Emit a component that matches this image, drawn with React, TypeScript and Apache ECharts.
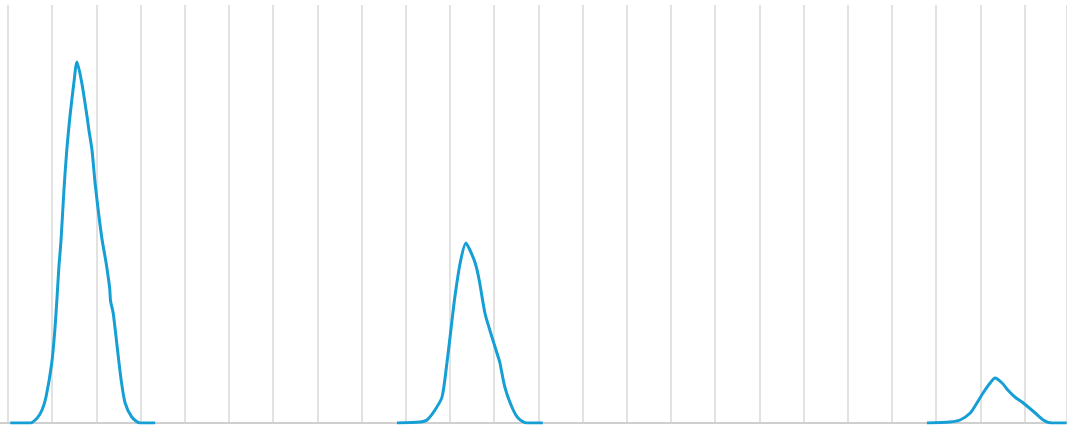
import React, { useEffect, useRef } from "react";
import * as echarts from "echarts";

// x in grid-cell units (one vertical grid line per unit), y in density units
const peakA: [number, number][] = [
  [0.05, 0], [0.5, 0], [0.66, 5], [0.77, 13], [0.86, 26], [0.99, 60], [1.06, 93],
  [1.11, 126], [1.15, 155], [1.2, 183], [1.27, 236], [1.33, 273],
  [1.4, 306], [1.49, 340], [1.56, 361], [1.67, 340], [1.79, 306], [1.83, 293],
  [1.9, 273], [1.97, 240], [2.06, 206], [2.13, 183], [2.22, 160], [2.3, 135],
  [2.32, 122], [2.38, 110], [2.47, 76], [2.56, 43], [2.65, 20], [2.8, 6],
  [2.99, 0], [3.33, 0],
];

const peakB: [number, number][] = [
  [8.8, 0], [9.32, 1], [9.48, 3], [9.66, 13], [9.82, 26], [9.93, 60], [10.02, 93],
  [10.11, 126], [10.23, 160], [10.36, 180], [10.45, 173], [10.57, 160],
  [10.66, 143], [10.79, 110], [10.9, 93], [11.09, 66], [11.13, 60], [11.24, 36],
  [11.4, 16], [11.54, 5], [11.74, 0], [12.1, 0],
];

const peakC: [number, number][] = [
  [20.79, 0], [21.31, 1], [21.54, 3], [21.77, 10], [21.92, 20], [22.06, 30],
  [22.22, 40], [22.33, 45], [22.49, 40], [22.62, 33], [22.78, 26], [22.94, 21],
  [23.08, 16], [23.24, 10], [23.42, 3], [23.62, 0], [23.95, 0],
];

const lineColor = "#169fd5";

export default function App() {
  const ref = useRef<HTMLDivElement>(null);
  useEffect(() => {
    if (!ref.current) return;
    const chart = echarts.init(ref.current, undefined, { renderer: "svg" });
    const mk = (name: string, data: [number, number][]) => ({
      name,
      type: "line",
      data,
      showSymbol: false,
      smooth: 0.25,
      lineStyle: { color: lineColor, width: 3 },
      itemStyle: { color: lineColor },
    });
    chart.setOption({
      animation: false,
      backgroundColor: "#ffffff",
      grid: { left: 8, right: 0, top: 5, bottom: 3, containLabel: false },
      graphic: [
        {
          type: "line",
          shape: { x1: 0, y1: 423, x2: 9, y2: 423 },
          style: { stroke: "#cfcfcf", lineWidth: 2 },
          silent: true,
        },
      ],
      xAxis: {
        type: "value",
        min: 0,
        max: 1059 / 44.2,
        interval: 1,
        axisLabel: { show: false },
        axisTick: { show: false },
        axisLine: { show: true, lineStyle: { color: "#cfcfcf", width: 2 } },
        splitLine: { show: true, lineStyle: { color: "#e2e2e2", width: 2 } },
      },
      yAxis: {
        type: "value",
        min: 0,
        max: 418,
        show: false,
        splitLine: { show: false },
      },
      series: [mk("A", peakA), mk("B", peakB), mk("C", peakC)],
    });
    return () => chart.dispose();
  }, []);
  return (
    <div
      ref={ref}
      style={{ position: "fixed", left: 0, top: 0, width: 1067, height: 426 }}
    />
  );
}
